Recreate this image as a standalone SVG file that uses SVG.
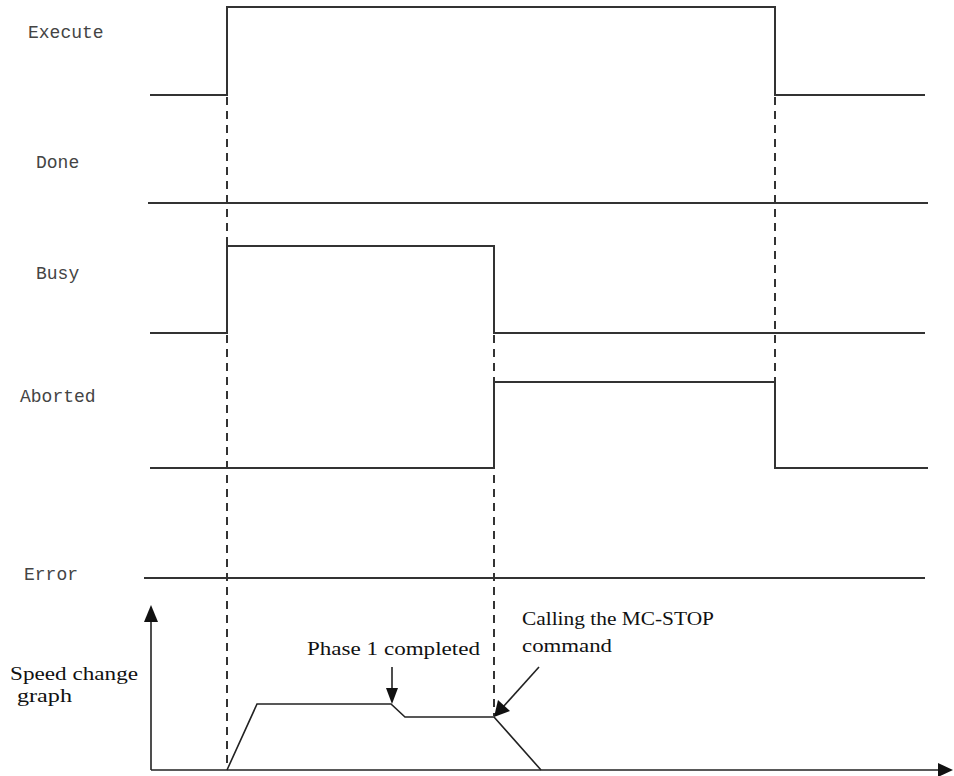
<svg xmlns="http://www.w3.org/2000/svg" width="954" height="776" viewBox="0 0 954 776">
<style>
.sig{fill:none;stroke:#333;stroke-width:2}
.dash{fill:none;stroke:#333;stroke-width:2;stroke-dasharray:8,6}
.spd{fill:none;stroke:#222;stroke-width:1.6}
.lbl{font-family:"Liberation Mono",monospace;font-size:18px;fill:#444}
.note{font-family:"Liberation Serif",serif;font-size:19px;fill:#111}
.head{fill:#111}
</style>
<rect width="954" height="776" fill="#fff"/>
<g id="labels">
<text class="lbl" x="28" y="38">Execute</text>
<text class="lbl" x="36" y="168">Done</text>
<text class="lbl" x="36" y="279">Busy</text>
<text class="lbl" x="20" y="402">Aborted</text>
<text class="lbl" x="24" y="580">Error</text>
</g>
<g id="execute"><polyline class="sig" points="150,95 227,95 227,7 775,7 775,95 925,95"/></g>
<g id="done"><line class="sig" x1="148" y1="203" x2="928" y2="203"/></g>
<g id="busy"><polyline class="sig" points="150,333 227,333 227,246 494,246 494,333 925,333"/></g>
<g id="aborted"><polyline class="sig" points="150,468 494,468 494,382 775,382 775,468 928,468"/></g>
<g id="error"><line class="sig" x1="144" y1="578" x2="925" y2="578"/></g>
<g id="connectors">
<line class="dash" x1="227" y1="97" x2="227" y2="768"/>
<line class="dash" x1="494" y1="335" x2="494" y2="716"/>
<line class="dash" x1="775" y1="97" x2="775" y2="382"/>
</g>
<g id="speed-graph">
<line class="spd" x1="151" y1="770" x2="151" y2="618"/>
<polygon class="head" points="151,605 144,622 158,622"/>
<line class="spd" x1="151" y1="770" x2="940" y2="770"/>
<polygon class="head" points="953,770 938,763 938,777"/>
<polyline class="spd" points="227,770 257,704 391,704 405,717 494,717 541,770"/>
<text class="note" x="10" y="680" textLength="128" lengthAdjust="spacingAndGlyphs">Speed change</text>
<text class="note" x="17" y="702" textLength="55" lengthAdjust="spacingAndGlyphs">graph</text>
</g>
<g id="phase1">
<text class="note" x="307" y="655" textLength="173" lengthAdjust="spacingAndGlyphs">Phase 1 completed</text>
<line class="spd" x1="392" y1="667" x2="392" y2="690"/>
<polygon class="head" points="392,704 386,688 398,688"/>
</g>
<g id="mcstop">
<text class="note" x="522" y="625" textLength="192" lengthAdjust="spacingAndGlyphs">Calling the MC-STOP</text>
<text class="note" x="522" y="652" textLength="90" lengthAdjust="spacingAndGlyphs">command</text>
<line class="spd" x1="539" y1="667" x2="503" y2="707"/>
<polygon class="head" points="494,717 498,700 510,711"/>
</g>
</svg>
